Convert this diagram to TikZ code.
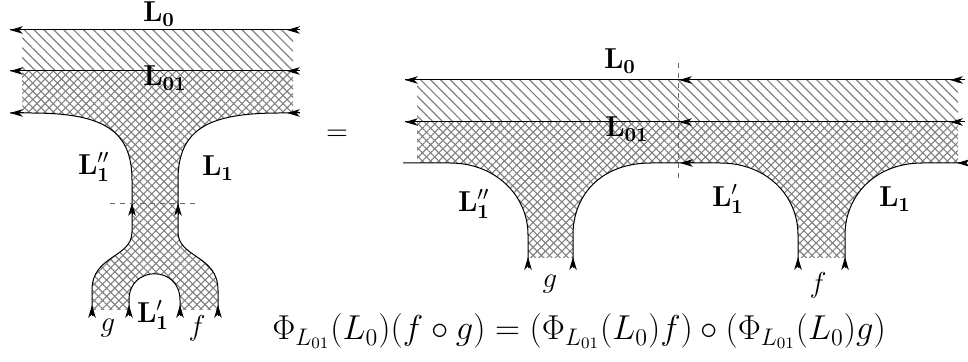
\documentclass[tikz,border=0pt]{standalone}
\usetikzlibrary{patterns.meta,arrows.meta}
\begin{document}
\begin{tikzpicture}[x=0.5pt,y=-0.5pt,
  bd/.style={line width=0.5pt},
  tipl/.style={-{Stealth[length=6.5pt,width=3.8pt,inset=2pt]}, line width=0.5pt},
  hatchA/.style={pattern={Lines[angle=-45,distance=3.5pt,line width=0.6pt]},pattern color=black!50},
  xA/.style={pattern={Lines[angle=45,distance=2.9pt,line width=0.55pt]},pattern color=black!50},
  xB/.style={pattern={Lines[angle=-45,distance=2.9pt,line width=0.55pt]},pattern color=black!50},
  lab/.style={font=\Large, inner sep=0pt},
  dsh/.style={dash pattern=on 2.5pt off 2.5pt, line width=0.5pt, black!60}]
\useasboundingbox (0,0) rectangle (968,362);
% ---------- left figure ----------
\path[hatchA] (22,30) rectangle (293,71);
\path[xA,postaction={xB}] (22,71) -- (293,71) -- (293,113) -- (280,113)
  .. controls (210,113) and (178,128) .. (178,180) -- (178,232)
  .. controls (178,258) and (218,255) .. (218,290) -- (218,310) -- (180,310) -- (180,300)
  .. controls (180,265) and (129,265) .. (129,300) -- (129,310) -- (92,310) -- (92,290)
  .. controls (92,255) and (132,258) .. (132,232) -- (132,180)
  .. controls (132,128) and (100,113) .. (30,113) -- (22,113) -- cycle;
\draw[bd] (10,30) -- (300,30);
\draw[bd] (10,71) -- (300,71);
\draw[bd] (10,113) -- (30,113) .. controls (100,113) and (132,128) .. (132,180) -- (132,232)
  .. controls (132,258) and (92,255) .. (92,290) -- (92,315);
\draw[bd] (300,113) -- (280,113) .. controls (210,113) and (178,128) .. (178,180) -- (178,232)
  .. controls (178,258) and (218,255) .. (218,290) -- (218,315);
\draw[bd] (129,315) -- (129,300) .. controls (129,265) and (180,265) .. (180,300) -- (180,315);
\foreach \y in {30,71,113} {
  \draw[tipl] (24,\y) -- (10,\y);
  \draw[tipl] (300,\y) -- (287,\y);
}
\foreach \x in {132,178} { \draw[tipl] (\x,215) -- (\x,203); }
\foreach \x in {92,129,180,218} { \draw[tipl] (\x,316) -- (\x,305); }
\draw[dsh] (110,204) -- (200,204);
\node[lab] (l0a) at (159,14) {$\mathbf{L_0}$};
\node[lab] (l01a) at (165,78) {$\mathbf{L_{01}}$};
\node[lab] (l1ppa) at (94,167) {$\mathbf{L_1''}$};
\node[lab] (l1a) at (218,168) {$\mathbf{L_1}$};
\node[lab] (l1pa) at (153,315) {$\mathbf{L_1'}$};
\node[lab] (ga) at (108,328) {$g$};
\node[lab] (fa) at (197,328) {$f$};
\node[lab] (eq) at (337,135) {$=$};
% ---------- right figure ----------
\path[hatchA] (417,80) rectangle (958,122);
\path[xA,postaction={xB}] (417,122) -- (958,122) -- (958,163) -- (922,163)
  .. controls (876,163) and (845,195) .. (845,235) -- (845,258) -- (798,258) -- (798,235)
  .. controls (798,195) and (766,163) .. (720,163) -- (651,163)
  .. controls (601,163) and (573,195) .. (573,235) -- (573,258) -- (528,258) -- (528,235)
  .. controls (528,195) and (495,163) .. (450,163) -- (417,163) -- cycle;
\draw[bd] (405,80) -- (965,80);
\draw[bd] (405,122) -- (965,122);
\draw[bd] (403,163) -- (450,163) .. controls (495,163) and (528,195) .. (528,235) -- (528,267);
\draw[bd] (573,267) -- (573,235) .. controls (573,195) and (601,163) .. (651,163) -- (720,163)
  .. controls (766,163) and (798,195) .. (798,235) -- (798,267);
\draw[bd] (845,267) -- (845,235) .. controls (845,195) and (876,163) .. (922,163) -- (966,163);
\foreach \y in {80,122} {
  \draw[tipl] (420,\y) -- (405,\y);
  \draw[tipl] (692,\y) -- (679,\y);
  \draw[tipl] (965,\y) -- (950,\y);
}
\draw[tipl] (694,163) -- (680,163);
\draw[tipl] (966,163) -- (957,163);
\foreach \x in {528,573,798,845} { \draw[tipl] (\x,268) -- (\x,257); }
\draw[dsh] (678,63) -- (678,182);
\node[lab] (l0b) at (620,61) {$\mathbf{L_0}$};
\node[lab] (l01b) at (627,129) {$\mathbf{L_{01}}$};
\node[lab] (l1ppb) at (474,204) {$\mathbf{L_1''}$};
\node[lab] (gb) at (550,284) {$g$};
\node[lab] (l1pb) at (728,199) {$\mathbf{L_1'}$};
\node[lab] (l1b) at (895,199) {$\mathbf{L_1}$};
\node[lab] (fb) at (818,285) {$f$};
\node[inner sep=0pt,anchor=base west,font=\fontsize{16.4}{20}\selectfont] (form) at (272,340)
  {$\Phi_{L_{01}}(L_0)(f\circ g)=(\Phi_{L_{01}}(L_0)f)\circ(\Phi_{L_{01}}(L_0)g)$};
\end{tikzpicture}
\end{document}
